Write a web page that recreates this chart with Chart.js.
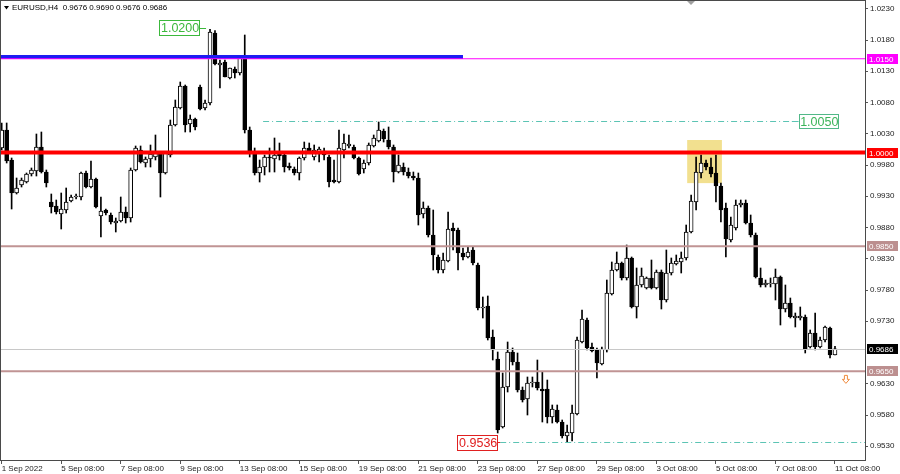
<!DOCTYPE html>
<html lang="en">
<head>
<meta charset="UTF-8">
<title>EURUSD,H4</title>
<script src="https://cdn.jsdelivr.net/npm/chart.js"></script>
<style>
  html, body { margin: 0; padding: 0; background: #fff; }
  #wrap { width: 900px; height: 474px; }
</style>
</head>
<body>
<div id="wrap"><canvas id="myChart" width="900" height="474"></canvas></div>
<script>
// H4 bars, index 0 = 1 Sep 2022 08:00, last = 11 Oct 2022 08:00
const opens = [
  1.00072, 1.00360, 0.99880, 0.99352, 0.99480, 0.99528, 0.99656, 0.99704, 1.00088, 0.99688, 0.99208, 0.99144,
  0.99016, 0.99080, 0.99224, 0.99288, 0.99288, 0.99672, 0.99448, 0.99576, 0.98984, 0.99080, 0.99000, 0.98872,
  0.98904, 0.99048, 0.98952, 0.99720, 1.00040, 0.99832, 0.99896, 0.99928, 0.99992, 0.99672, 0.99960, 1.00440,
  1.00712, 1.01064, 1.00456, 1.00536, 1.01048, 1.00712, 1.00792, 1.01912, 1.01400, 1.01448, 1.01192, 1.01336,
  1.01272, 1.01544, 1.00360, 0.99992, 0.99672, 0.99768, 0.99928, 0.99896, 1.00008, 0.99960, 0.99784, 0.99736,
  0.99672, 0.99912, 1.00072, 0.99928, 0.99992, 1.00024, 0.99928, 0.99560, 0.99528, 1.00040, 1.00104, 1.00088,
  0.99912, 0.99736, 0.99832, 1.00104, 1.00184, 1.00344, 1.00200, 1.00088, 0.99688, 0.99768, 0.99688, 0.99624,
  0.99592, 0.99016, 0.99112, 0.98680, 0.98328, 0.98120, 0.98264, 0.98792, 0.98760, 0.98392, 0.98328, 0.98440,
  0.98200, 0.97512, 0.97544, 0.97048, 0.96696, 0.95608, 0.96248, 0.96808, 0.96648, 0.96200, 0.96056, 0.96312,
  0.96328, 0.96216, 0.96216, 0.95768, 0.95880, 0.95688, 0.95464, 0.95512, 0.95816, 0.96968, 0.97320, 0.96888,
  0.96840, 0.96616, 0.96840, 0.97736, 0.98120, 0.98232, 0.97992, 0.98312, 0.97528, 0.97880, 0.97832, 0.97992,
  0.97832, 0.98088, 0.97640, 0.98072, 0.98216, 0.98248, 0.98312, 0.98728, 0.99208, 0.99672, 0.99832, 0.99768,
  0.99672, 0.99464, 0.99112, 0.98600, 0.98792, 0.99160, 0.99192, 0.98872, 0.98680, 0.97992, 0.97880, 0.97896,
  0.97896, 0.98008, 0.97496, 0.97592, 0.97352, 0.97352, 0.97368, 0.96888, 0.97112, 0.96888, 0.97000, 0.97192,
  0.9676
];
const highs = [
  1.00472, 1.00472, 0.99912, 0.99592, 0.99592, 0.99672, 0.99752, 1.00296, 1.00328, 0.99720, 0.99336, 0.99240,
  0.99352, 0.99432, 0.99320, 0.99336, 0.99688, 0.99704, 0.99864, 0.99592, 0.99288, 0.99096, 0.99032, 0.98952,
  0.99288, 0.99128, 0.99752, 1.00104, 1.00104, 0.99928, 1.00120, 1.00280, 1.00008, 1.00008, 1.00520, 1.00840,
  1.01128, 1.01080, 1.00600, 1.00552, 1.01080, 1.00840, 1.01970, 1.01950, 1.01480, 1.01480, 1.01352, 1.01368,
  1.01544, 1.01880, 1.00408, 1.00072, 0.99880, 0.99960, 1.00072, 1.00232, 1.00152, 0.99992, 0.99832, 0.99768,
  0.99928, 1.00168, 1.00152, 1.00120, 1.00088, 1.00072, 0.99960, 0.99880, 1.00360, 1.00296, 1.00280, 1.00120,
  0.99928, 0.99880, 1.00152, 1.00280, 1.00488, 1.00376, 1.00408, 1.00120, 0.99960, 0.99832, 0.99752, 0.99688,
  0.99672, 0.99208, 0.99144, 0.99080, 0.98360, 0.98392, 0.99048, 0.98872, 0.98792, 0.98472, 0.98488, 0.98488,
  0.98232, 0.97688, 0.97704, 0.97160, 0.96808, 0.96472, 0.96968, 0.96872, 0.96792, 0.96248, 0.96408, 0.96408,
  0.96680, 0.96488, 0.96360, 0.95960, 0.95960, 0.95720, 0.95640, 0.95960, 0.97048, 0.97480, 0.97352, 0.96952,
  0.96872, 0.96888, 0.97960, 0.98248, 0.98408, 0.98248, 0.98520, 0.98328, 0.98152, 0.98152, 0.98008, 0.98280,
  0.98120, 0.98120, 0.98440, 0.98312, 0.98360, 0.98408, 0.98840, 0.99320, 0.99928, 0.99960, 0.99880, 0.99912,
  0.99960, 0.99512, 0.99192, 0.98968, 0.99240, 0.99240, 0.99240, 0.99000, 0.98712, 0.98152, 0.97960, 0.97992,
  0.98136, 0.98024, 0.97880, 0.97672, 0.97432, 0.97528, 0.97400, 0.97160, 0.97432, 0.97048, 0.97224, 0.97208,
  0.9690
];
const lows = [
  1.00040, 0.99832, 0.99096, 0.99336, 0.99448, 0.99512, 0.99624, 0.99624, 0.99672, 0.99448, 0.99032, 0.99016,
  0.98776, 0.99032, 0.99208, 0.99256, 0.99240, 0.99432, 0.99432, 0.99112, 0.98648, 0.99000, 0.98856, 0.98728,
  0.98888, 0.98872, 0.98888, 0.99704, 0.99832, 0.99768, 0.99768, 0.99880, 0.99288, 0.99656, 0.99928, 1.00424,
  1.00696, 1.00328, 1.00328, 1.00360, 1.00680, 1.00680, 1.00760, 1.01400, 1.01032, 1.01208, 1.01176, 1.01192,
  1.01240, 1.00312, 0.99928, 0.99640, 0.99528, 0.99640, 0.99688, 0.99688, 0.99880, 0.99688, 0.99720, 0.99640,
  0.99560, 0.99880, 0.99992, 0.99880, 0.99848, 0.99880, 0.99448, 0.99512, 0.99512, 0.99912, 1.00072, 0.99896,
  0.99640, 0.99672, 0.99800, 1.00088, 1.00168, 1.00168, 1.00056, 0.99528, 0.99672, 0.99640, 0.99592, 0.99560,
  0.98840, 0.98952, 0.98648, 0.98120, 0.98072, 0.98072, 0.98248, 0.98440, 0.98120, 0.98280, 0.98312, 0.98200,
  0.97480, 0.97352, 0.97000, 0.96680, 0.95512, 0.95592, 0.96168, 0.96600, 0.96168, 0.96008, 0.95800, 0.96248,
  0.96200, 0.95688, 0.95672, 0.95672, 0.95672, 0.95432, 0.95360, 0.95384, 0.95800, 0.96952, 0.96840, 0.96808,
  0.96392, 0.96600, 0.96808, 0.97720, 0.98104, 0.97960, 0.97960, 0.97512, 0.97352, 0.97848, 0.97816, 0.97816,
  0.97816, 0.97496, 0.97608, 0.98040, 0.98200, 0.98072, 0.98280, 0.98712, 0.99080, 0.99592, 0.99720, 0.99608,
  0.99208, 0.98888, 0.98328, 0.98568, 0.98760, 0.99128, 0.98856, 0.98648, 0.97992, 0.97848, 0.97848, 0.97848,
  0.97640, 0.97240, 0.97448, 0.97352, 0.97208, 0.97320, 0.96792, 0.96872, 0.96840, 0.96872, 0.96968, 0.96712,
  0.9676
];
const closes = [
  1.00360, 0.99864, 0.99352, 0.99432, 0.99560, 0.99656, 0.99720, 1.00088, 0.99688, 0.99512, 0.99128, 0.99048,
  0.99096, 0.99208, 0.99288, 0.99304, 0.99672, 0.99448, 0.99576, 0.99128, 0.99064, 0.99032, 0.98888, 0.98904,
  0.99048, 0.98952, 0.99720, 1.00072, 0.99848, 0.99896, 0.99976, 0.99992, 0.99672, 0.99992, 1.00440, 1.00728,
  1.01064, 1.00440, 1.00536, 1.00408, 1.00696, 1.00792, 1.01928, 1.01416, 1.01432, 1.01208, 1.01352, 1.01272,
  1.01544, 1.00360, 0.99992, 0.99672, 0.99768, 0.99928, 0.99912, 0.99960, 0.99944, 0.99768, 0.99752, 0.99672,
  0.99912, 1.00072, 1.00024, 1.00040, 1.00056, 0.99960, 0.99528, 0.99528, 1.00072, 1.00152, 1.00136, 0.99912,
  0.99656, 0.99832, 1.00120, 1.00232, 1.00360, 1.00216, 1.00088, 0.99688, 0.99800, 0.99688, 0.99624, 0.99592,
  0.99000, 0.99112, 0.98680, 0.98360, 0.98120, 0.98280, 0.98776, 0.98744, 0.98392, 0.98328, 0.98408, 0.98232,
  0.97512, 0.97528, 0.97032, 0.96840, 0.95560, 0.96248, 0.96808, 0.96648, 0.96200, 0.96040, 0.96312, 0.96328,
  0.96232, 0.96184, 0.95768, 0.95896, 0.95688, 0.95464, 0.95528, 0.95832, 0.97000, 0.97336, 0.96872, 0.96824,
  0.96632, 0.96856, 0.97752, 0.98120, 0.98232, 0.97992, 0.98312, 0.97528, 0.97880, 0.98024, 0.97992, 0.97832,
  0.98088, 0.97640, 0.98072, 0.98232, 0.98264, 0.98312, 0.98728, 0.99224, 0.99688, 0.99832, 0.99768, 0.99656,
  0.99464, 0.99080, 0.98616, 0.98840, 0.99160, 0.99192, 0.98872, 0.98680, 0.98008, 0.97880, 0.97912, 0.97900,
  0.98008, 0.97496, 0.97592, 0.97368, 0.97384, 0.97384, 0.96856, 0.97112, 0.96888, 0.97000, 0.97208, 0.96760,
  0.9686
];

// time axis labels, one every 12 bars
const labelBars = [0, 12, 24, 36, 48, 60, 72, 84, 96, 108, 120, 132, 144, 156, 168];
const dateLabels = ['1 Sep 2022', '5 Sep 08:00', '7 Sep 08:00', '9 Sep 08:00', '13 Sep 08:00', '15 Sep 08:00',
  '19 Sep 08:00', '21 Sep 08:00', '23 Sep 08:00', '27 Sep 08:00', '29 Sep 08:00', '3 Oct 08:00',
  '5 Oct 08:00', '7 Oct 08:00', '11 Oct 08:00'];
const priceTicks = [1.0230, 1.0180, 1.0130, 1.0080, 1.0030, 0.9980, 0.9930, 0.9880, 0.9830,
  0.9780, 0.9730, 0.9630, 0.9580, 0.9530];

// drawn objects
const magentaLevel = 1.0150;
const redLevel = 1.0000;
const brownLevels = [0.9850, 0.9650];
const bidLevel = closes[closes.length - 1];
const blueLevel = 1.01528, blueEndBar = 93;
const targetLevels = [1.0050, 0.9536];
const targetStartBars = [52.7, 100.5];
const targetEndBars = [159.3, 174.05];
const zoneBars = [138.2, 145.2];
const zonePrices = [1.0020, 0.9951];

const FONT = 'Liberation Sans, Arial, sans-serif';
const isUp = i => closes[i] >= opens[i];
const idx = opens.map((o, i) => i);

function hline(ctx, x0, x1, yy, color, w, dash) {
  ctx.save();
  ctx.strokeStyle = color;
  ctx.lineWidth = w;
  ctx.setLineDash(dash || []);
  ctx.beginPath();
  ctx.moveTo(x0, yy);
  ctx.lineTo(x1, yy);
  ctx.stroke();
  ctx.restore();
}

function boxLabel(ctx, text, left, yc, w, h, color, textColor) {
  ctx.save();
  ctx.fillStyle = '#fff';
  ctx.fillRect(left, yc - h / 2, w, h);
  ctx.strokeStyle = color;
  ctx.lineWidth = 1;
  ctx.strokeRect(Math.round(left) + 0.5, Math.round(yc - h / 2) + 0.5, w, h);
  ctx.fillStyle = textColor || color;
  ctx.font = '12.5px ' + FONT;
  ctx.textAlign = 'center';
  ctx.textBaseline = 'middle';
  ctx.fillText(text, left + w / 2 + 1, yc + 1);
  ctx.restore();
}

function axisTag(ctx, text, x, yc, bg, fg) {
  ctx.save();
  ctx.fillStyle = bg;
  ctx.fillRect(x, Math.round(yc) - 5, 31, 10);
  ctx.fillStyle = fg;
  ctx.font = '8px ' + FONT;
  ctx.textAlign = 'left';
  ctx.textBaseline = 'middle';
  ctx.fillText(text, x + 2, Math.round(yc) + 0.5);
  ctx.restore();
}

const overlay = {
  id: 'overlay',
  beforeDatasetsDraw(chart) {
    const { ctx, scales: { x, y } } = chart;
    const x0 = x.getPixelForValue(zoneBars[0]), x1 = x.getPixelForValue(zoneBars[1]);
    const y0 = y.getPixelForValue(zonePrices[0]), y1 = y.getPixelForValue(zonePrices[1]);
    ctx.save();
    ctx.fillStyle = '#f2e08f';
    ctx.fillRect(x0, y0, x1 - x0, y1 - y0);
    ctx.restore();
  },
  afterDatasetsDraw(chart) {
    const { ctx, chartArea: a, scales: { x, y } } = chart;
    ctx.save();
    ctx.beginPath();
    ctx.rect(a.left, a.top, a.right - a.left, a.bottom - a.top);
    ctx.clip();
    // levels
    hline(ctx, a.left, x.getPixelForValue(blueEndBar), y.getPixelForValue(blueLevel), '#1c1cf2', 4);
    hline(ctx, a.left, a.right, y.getPixelForValue(magentaLevel), '#ff00ff', 1.2);
    hline(ctx, a.left, a.right, y.getPixelForValue(redLevel), '#ff0000', 4);
    brownLevels.forEach(v => hline(ctx, a.left, a.right, y.getPixelForValue(v), '#c09494', 2));
    hline(ctx, a.left, a.right, Math.round(y.getPixelForValue(bidLevel)) + 0.5, '#c8c8c8', 1);
    targetLevels.forEach((v, k) => hline(ctx, x.getPixelForValue(targetStartBars[k]), x.getPixelForValue(targetEndBars[k]),
      Math.round(y.getPixelForValue(v)) + 0.5, '#5cc4b4', 1, [6, 3, 1, 3]));

    // price marks
    const hiY = y.getPixelForValue(1.0200);
    const hiRight = x.getPixelForValue(39.8);
    hline(ctx, hiRight, x.getPixelForValue(41.2), Math.round(hiY) + 0.5, '#3cb83c', 1);
    boxLabel(ctx, '1.0200', hiRight - 40, hiY, 40, 15, '#3cb83c');

    const midY = y.getPixelForValue(targetLevels[0]);
    const midLeft = x.getPixelForValue(160.7);
    hline(ctx, x.getPixelForValue(targetEndBars[0]), midLeft, Math.round(midY) + 0.5, '#5cc4b4', 1);
    boxLabel(ctx, '1.0050', midLeft, midY, 39, 14, '#52b888', '#3cb45a');

    const loY = y.getPixelForValue(targetLevels[1]);
    const loRight = x.getPixelForValue(99.9);
    hline(ctx, loRight, x.getPixelForValue(targetStartBars[1]), Math.round(loY) + 0.5, '#e02020', 1);
    boxLabel(ctx, '0.9536', loRight - 40, loY, 40, 15, '#e02020');

    // small down arrow
    const ax = x.getPixelForValue(170.2), ay = y.getPixelForValue(0.9637);
    ctx.strokeStyle = '#f08a3c';
    ctx.lineWidth = 1;
    ctx.beginPath();
    ctx.moveTo(ax - 1.5, ay - 4);
    ctx.lineTo(ax + 1.5, ay - 4);
    ctx.lineTo(ax + 1.5, ay);
    ctx.lineTo(ax + 3.5, ay);
    ctx.lineTo(ax, ay + 4);
    ctx.lineTo(ax - 3.5, ay);
    ctx.lineTo(ax - 1.5, ay);
    ctx.closePath();
    ctx.stroke();
    ctx.restore();
  },
  afterDraw(chart) {
    const { ctx, chartArea: a, scales: { y } } = chart;
    // frame
    ctx.save();
    ctx.strokeStyle = '#4a4a4a';
    ctx.lineWidth = 1;
    ctx.strokeRect(0.5, 0.5, a.right, a.bottom);
    ctx.restore();

    // right axis tags
    const tx = a.right + 2;
    axisTag(ctx, magentaLevel.toFixed(4), tx, y.getPixelForValue(magentaLevel), '#ff00ff', '#fff');
    axisTag(ctx, redLevel.toFixed(4), tx, y.getPixelForValue(redLevel), '#ff0000', '#fff');
    brownLevels.forEach(v => axisTag(ctx, v.toFixed(4), tx, y.getPixelForValue(v), '#bc8f8f', '#fff'));
    axisTag(ctx, bidLevel.toFixed(4), tx, y.getPixelForValue(bidLevel), '#000', '#fff');

    // title
    const n = closes.length - 1;
    ctx.save();
    ctx.fillStyle = '#000';
    ctx.beginPath();
    ctx.moveTo(4, 6); ctx.lineTo(9, 6); ctx.lineTo(6.5, 9.5); ctx.closePath();
    ctx.fill();
    ctx.font = '8px ' + FONT;
    ctx.textBaseline = 'middle';
    ctx.fillText('EURUSD,H4  ' + [opens[n], highs[n], lows[n], closes[n]].map(v => v.toFixed(4)).join(' '), 12, 8);
    // shift marker
    ctx.fillStyle = '#a0a0a0';
    ctx.beginPath();
    ctx.moveTo(687, 1); ctx.lineTo(695, 1); ctx.lineTo(691, 5); ctx.closePath();
    ctx.fill();
    ctx.restore();
  }
};

const myChart = new Chart(document.getElementById('myChart'), {
  type: 'bar',
  data: {
    datasets: [
      {
        label: 'body',
        data: idx.map(i => ({ x: i, y: [opens[i], closes[i]] })),
        grouped: false,
        barThickness: 4,
        minBarLength: 1,
        borderSkipped: false,
        borderWidth: 1,
        borderColor: '#000',
        backgroundColor: c => isUp(c.dataIndex) ? '#fff' : '#000'
      },
      {
        label: 'wick',
        data: idx.map(i => ({ x: i, y: [lows[i], highs[i]] })),
        grouped: false,
        barThickness: 1,
        borderWidth: 0,
        backgroundColor: '#000'
      }
    ]
  },
  options: {
    responsive: false,
    animation: false,
    events: [],
    layout: { padding: { top: 1, left: 1, right: 0, bottom: 0 }, autoPadding: false },
    plugins: { legend: { display: false }, tooltip: { enabled: false } },
    scales: {
      x: {
        type: 'linear',
        min: -0.141,
        max: 174.05,
        offset: false,
        border: { display: false },
        grid: { drawOnChartArea: false, tickLength: 4, color: '#555', offset: false },
        afterBuildTicks: ax => { ax.ticks = labelBars.map(v => ({ value: v })); },
        afterFit: ax => { ax.height = 14; ax.paddingLeft = 0; ax.paddingRight = 0; },
        ticks: {
          autoSkip: false,
          maxRotation: 0,
          align: 'start',
          padding: 0,
          color: '#222',
          font: { family: FONT, size: 8 },
          callback: v => dateLabels[labelBars.indexOf(v)]
        }
      },
      y: {
        type: 'linear',
        position: 'right',
        min: 0.9508,
        max: 1.02424,
        border: { display: false },
        grid: { drawOnChartArea: false, tickLength: 3, color: '#555' },
        afterBuildTicks: ax => { ax.ticks = priceTicks.map(v => ({ value: v })); },
        afterFit: ax => { ax.width = 35; ax.paddingTop = 0; ax.paddingBottom = 0; },
        ticks: {
          padding: 2,
          color: '#222',
          font: { family: FONT, size: 8 },
          callback: v => v.toFixed(4)
        }
      }
    }
  },
  plugins: [overlay]
});
</script>
</body>
</html>
